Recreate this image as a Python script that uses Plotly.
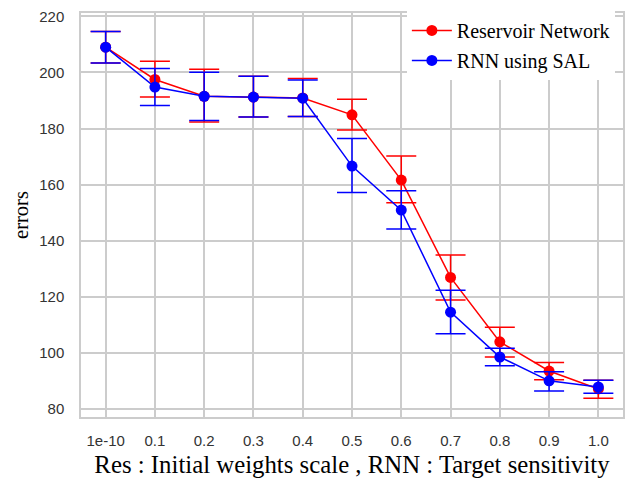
import plotly.graph_objects as go

categories = ["1e-10", "0.1", "0.2", "0.3", "0.4", "0.5", "0.6", "0.7", "0.8", "0.9", "1.0"]

res_mean = [209.0, 197.5, 191.5, 191.2, 190.9, 184.9, 161.6, 126.9, 103.9, 93.5, 87.1]
res_upper = [214.6, 204.0, 201.1, 198.6, 197.8, 190.4, 170.2, 134.9, 109.1, 96.5, 90.2]
res_lower = [203.4, 191.2, 182.3, 184.1, 184.3, 179.5, 153.5, 118.8, 98.5, 90.4, 83.8]

sal_mean = [209.0, 194.8, 191.5, 191.2, 190.8, 166.6, 150.9, 114.5, 98.5, 90.0, 87.8]
sal_upper = [214.6, 201.4, 200.1, 198.6, 197.3, 176.4, 157.8, 122.3, 101.6, 93.2, 90.2]
sal_lower = [203.4, 188.2, 182.9, 184.1, 184.3, 157.2, 144.2, 106.8, 95.4, 86.4, 85.6]

y_ticks = [80, 100, 120, 140, 160, 180, 200, 220]

SERIF = "Times New Roman, Liberation Serif, serif"
SANS = "Arial, Liberation Sans, sans-serif"

def trace(name, mean, upper, lower, color):
    return go.Scatter(
        x=categories, y=mean, name=name, mode="lines+markers",
        legendgroup=name,
        line=dict(color=color, width=1.5),
        marker=dict(color=color, size=11),
        error_y=dict(type="data", symmetric=False,
                     array=[u - m for u, m in zip(upper, mean)],
                     arrayminus=[m - l for m, l in zip(mean, lower)],
                     color=color, thickness=1.5, width=15),
    )

fig = go.Figure()
fig.add_trace(trace("Reservoir Network", res_mean, res_upper, res_lower, "#ff0000"))
fig.add_trace(trace("RNN using SAL", sal_mean, sal_upper, sal_lower, "#0000ff"))

fig.update_layout(
    width=633, height=481,
    margin=dict(l=81, r=10, t=13, b=64),
    paper_bgcolor="white", plot_bgcolor="white",
    showlegend=True,
    legend=dict(x=0.985, y=1.005, xanchor="right", yanchor="top",
                bgcolor="white",
                font=dict(family=SERIF, size=20, color="black"),
                tracegroupgap=1, itemwidth=40),
)
fig.update_xaxes(
    type="category", range=[-0.5, 10.5], automargin=False,
    showgrid=True, gridcolor="#cccccc", gridwidth=1.5,
    showline=True, mirror=True, linecolor="#cccccc", linewidth=1.5,
    ticks="outside", ticklen=9, tickcolor="rgba(0,0,0,0)",
    tickfont=dict(family=SANS, size=15, color="#333333"),
    title=dict(text="Res : Initial weights scale , RNN : Target sensitivity",
               font=dict(family=SERIF, size=24.8, color="black"), standoff=8),
)
fig.update_yaxes(
    range=[77.1, 221.2], tickvals=y_ticks, automargin=False,
    showgrid=True, gridcolor="#cccccc", gridwidth=1.5, zeroline=False,
    showline=True, mirror=True, linecolor="#cccccc", linewidth=1.5,
    ticks="outside", ticklen=12, tickcolor="rgba(0,0,0,0)",
    tickfont=dict(family=SANS, size=15, color="#333333"),
    title=dict(text="errors", font=dict(family=SERIF, size=20.5, color="black"), standoff=5),
)

fig.write_html("out.html", config={"displayModeBar": False},
               post_script="document.body.style.margin='0px';")
